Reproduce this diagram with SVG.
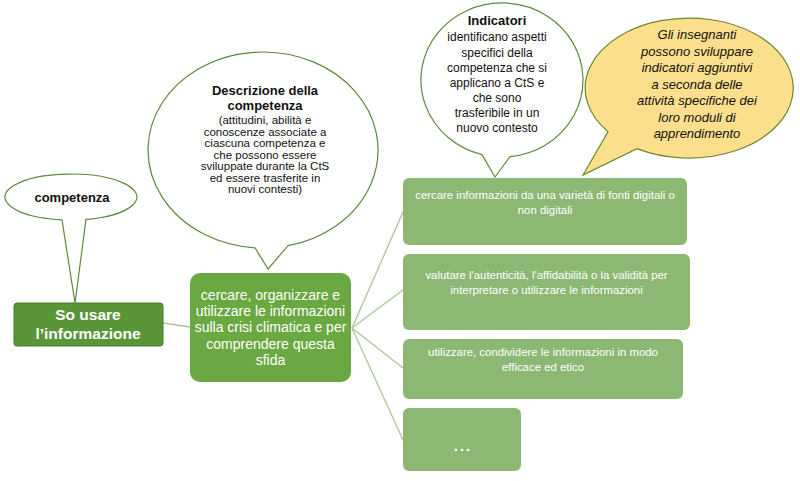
<svg xmlns="http://www.w3.org/2000/svg" width="800" height="481" viewBox="0 0 800 481">
<style>
  text { font-family: "Liberation Sans", Arial, sans-serif; text-anchor: middle; }
  .bubble { fill: #ffffff; stroke: #5b8a3a; stroke-width: 1.2; }
  .yellow { fill: #fbdf8c; stroke: #6b8a2c; stroke-width: 1.2; }
  .wt { fill: #ffffff; }
  .bk { fill: #111111; }
  .lightbox { fill: #8db873; }
  .conn { stroke: #a8c992; stroke-width: 1.3; fill: none; }
</style>
<rect width="800" height="481" fill="#ffffff"/>

<g id="connectors">
  <line class="conn" x1="163" y1="323" x2="190" y2="327"/>
  <line class="conn" x1="352" y1="328" x2="403" y2="212"/>
  <line class="conn" x1="352" y1="328" x2="403" y2="290"/>
  <line class="conn" x1="352" y1="328" x2="403" y2="368"/>
  <line class="conn" x1="352" y1="328" x2="403" y2="440"/>
</g>

<g id="bubble-competenza">
  <path class="bubble" d="M62,219.8 A66,23 0 1 1 86,219.4 L75,303 Z"/>
  <text class="bk" x="72" y="202" font-size="13" font-weight="bold">competenza</text>
</g>

<g id="bubble-descrizione">
  <path class="bubble" d="M255,247.8 A115,98 0 1 1 288,245.7 L268,269 Z"/>
  <text class="bk" font-size="13" font-weight="bold"><tspan x="265" y="95">Descrizione della</tspan><tspan x="265" y="110">competenza</tspan></text>
  <text class="bk" font-size="11.5"><tspan x="265" y="124">(attitudini, abilità e</tspan><tspan x="265" y="135.5">conoscenze associate a</tspan><tspan x="265" y="147">ciascuna competenza e</tspan><tspan x="265" y="158.5">che possono essere</tspan><tspan x="265" y="170">sviluppate durante la CtS</tspan><tspan x="265" y="181.5">ed essere trasferite in</tspan><tspan x="265" y="193">nuovi contesti)</tspan></text>
</g>

<g id="bubble-indicatori">
  <path class="bubble" d="M482,154.6 A81,77 0 1 1 510,156.6 L495,177 Z"/>
  <text class="bk" x="497" y="25" font-size="13" font-weight="bold">Indicatori</text>
  <text class="bk" font-size="12"><tspan x="497" y="41">identificano aspetti</tspan><tspan x="497" y="56.5">specifici della</tspan><tspan x="497" y="71.5">competenza che si</tspan><tspan x="497" y="86.5">applicano a CtS e</tspan><tspan x="497" y="101.5">che sono</tspan><tspan x="497" y="117">trasferibile in un</tspan><tspan x="497" y="132">nuovo contesto</tspan></text>
</g>

<g id="bubble-insegnanti">
  <path class="yellow" d="M608,131.8 A104,70 0 1 1 637,148.6 L583,175 Z"/>
  <text class="bk" font-size="13" font-style="italic"><tspan x="697" y="39">Gli insegnanti</tspan><tspan x="697" y="55.5">possono sviluppare</tspan><tspan x="697" y="72">indicatori aggiuntivi</tspan><tspan x="697" y="88.5">a seconda delle</tspan><tspan x="697" y="105">attività specifiche dei</tspan><tspan x="697" y="121.5">loro moduli di</tspan><tspan x="697" y="138">apprendimento</tspan></text>
</g>

<g id="node-so-usare">
  <rect x="14" y="303" width="149" height="43" rx="3" fill="#5a9538" stroke="#447a2b" stroke-width="1"/>
  <text class="wt" font-size="15.5" font-weight="bold"><tspan x="88" y="320">So usare</tspan><tspan x="88" y="339">l’informazione</tspan></text>
</g>

<g id="node-main">
  <rect x="190" y="273" width="161" height="109" rx="10" fill="#6aa842"/>
  <text class="wt" font-size="14"><tspan x="270.5" y="300">cercare, organizzare e</tspan><tspan x="270.5" y="316">utilizzare le informazioni</tspan><tspan x="270.5" y="332">sulla crisi climatica e per</tspan><tspan x="270.5" y="348.5">comprendere questa</tspan><tspan x="270.5" y="364.5">sfida</tspan></text>
</g>

<g id="node-ind1">
  <rect class="lightbox" x="403" y="178" width="284" height="67" rx="6"/>
  <text class="wt" font-size="11.4"><tspan x="545" y="199">cercare informazioni da una varietà di fonti digitali o</tspan><tspan x="545" y="214">non digitali</tspan></text>
</g>

<g id="node-ind2">
  <rect class="lightbox" x="403" y="254" width="287" height="76" rx="6"/>
  <text class="wt" font-size="11.4"><tspan x="546.5" y="279">valutare l'autenticità, l'affidabilità o la validità per</tspan><tspan x="546.5" y="294">interpretare o utilizzare le informazioni</tspan></text>
</g>

<g id="node-ind3">
  <rect class="lightbox" x="403" y="339" width="280" height="60" rx="6"/>
  <text class="wt" font-size="11.4"><tspan x="543" y="356">utilizzare, condividere le informazioni in modo</tspan><tspan x="543" y="371">efficace ed etico</tspan></text>
</g>

<g id="node-ind4">
  <rect class="lightbox" x="403" y="408" width="118" height="63" rx="6"/>
  <text class="wt" x="463" y="451" font-size="15" font-weight="bold" letter-spacing="2">...</text>
</g>
</svg>
